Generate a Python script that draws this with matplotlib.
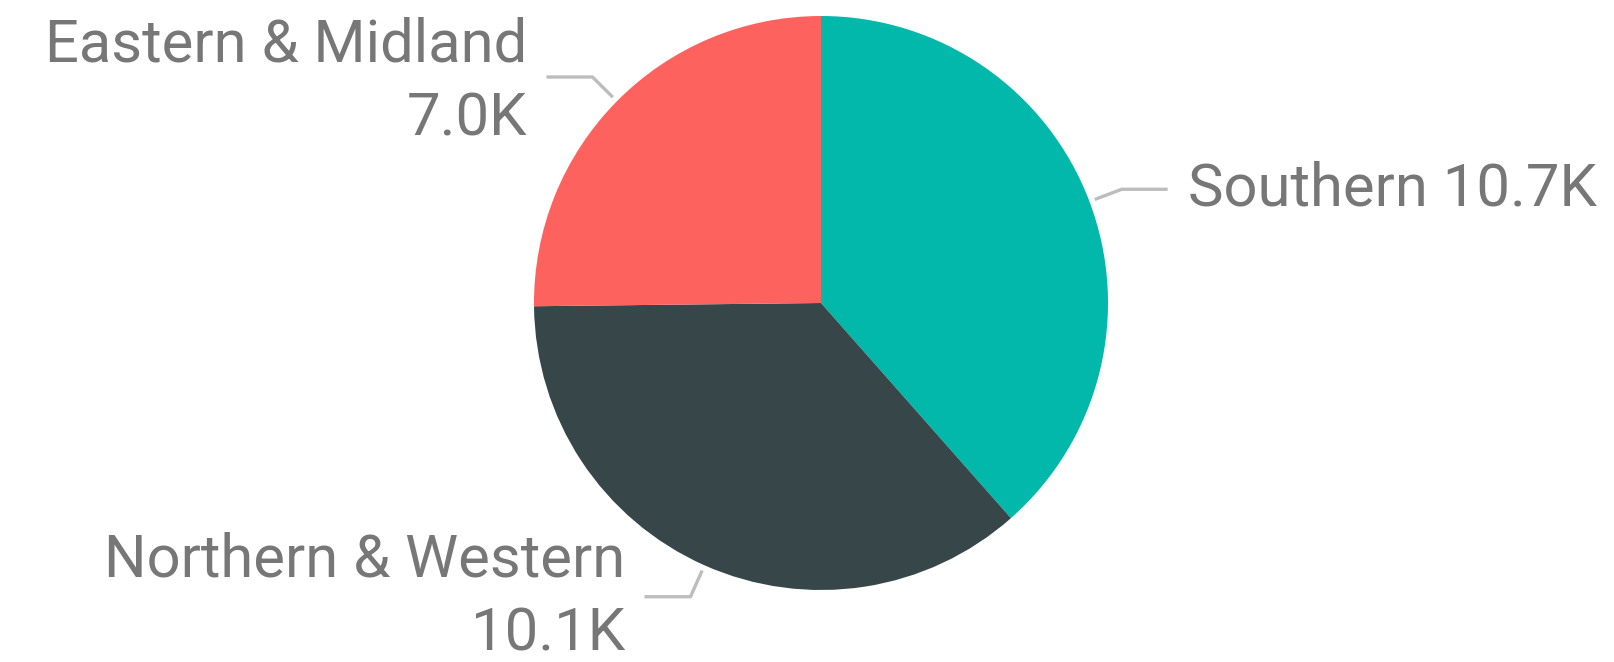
import numpy as np
import matplotlib
matplotlib.use("Agg")
import matplotlib.pyplot as plt

# Values per region (thousands)
regions = ["Southern", "Northern & Western", "Eastern & Midland"]
values = [10.7, 10.1, 7.0]
value_labels = ["10.7K", "10.1K", "7.0K"]
colors = ["#01B8AA", "#374649", "#FD625E"]

W, H = 1614, 662
fig = plt.figure(figsize=(W / 100, H / 100), dpi=100)
ax = fig.add_axes([0, 0, 1, 1])

cx, cy, r = 821, 359, 287
wedges, _ = ax.pie(values, colors=colors, startangle=90, counterclock=False,
                   center=(cx, cy), radius=r, frame=True)
ax.set_xlim(0, W)
ax.set_ylim(0, H)
ax.axis("off")

font = dict(family=["Roboto", "DejaVu Sans"], fontsize=43, color="#777777")
line_col = "#BDBDBD"

for w, name, lab in zip(wedges, regions, value_labels):
    ang = np.deg2rad((w.theta1 + w.theta2) / 2)
    x0, y0 = cx + 1.02 * r * np.cos(ang), cy + 1.02 * r * np.sin(ang)
    x1, y1 = cx + 1.12 * r * np.cos(ang), cy + 1.12 * r * np.sin(ang)
    side = 1 if np.cos(ang) > 0 else -1
    x2 = x1 + side * 46
    ax.plot([x0, x1, x2], [y0, y1, y1], color=line_col, lw=2.4, solid_capstyle="butt")
    if side > 0:
        ax.text(x2 + 20, y1, f"{name} {lab}", ha="left", va="center", **font)
    else:
        # two-line label; the upper one sits slightly lower, the bottom one stays inside
        dy = -5 if y1 > cy else 0
        ax.text(x2 - 19, y1 + dy, f"{name}\n{lab}", ha="right", va="center",
                linespacing=1.38, multialignment="right", **font)

fig.savefig("out.png", dpi=100, facecolor="white")
